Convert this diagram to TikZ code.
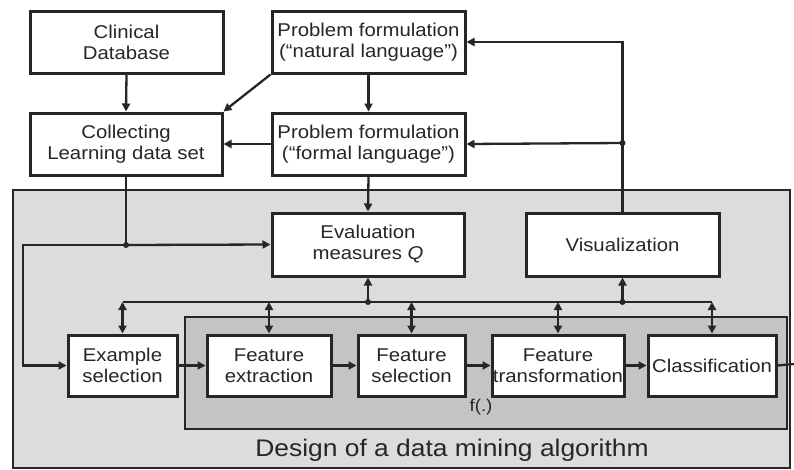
\documentclass[tikz,border=0pt]{standalone}
\usepackage{fontspec}
\setmainfont{Liberation Sans}[FakeStretch=1.1]
\usetikzlibrary{arrows.meta}
\definecolor{outergray}{HTML}{DCDCDC}
\definecolor{innergray}{HTML}{C4C4C4}
\definecolor{ink}{HTML}{262626}
\begin{document}
\begin{tikzpicture}[x=1pt,y=-1pt,
  box/.style={draw=ink,fill=white,line width=3pt,inner sep=0pt,align=center,
    font=\fontsize{18.5}{21}\selectfont,text=ink},
  conn/.style={draw=ink,line width=2.3pt,-{Triangle[length=8pt,width=8pt]}},
  dconn/.style={draw=ink,line width=2.3pt,{Triangle[length=8pt,width=8pt]}-{Triangle[length=8pt,width=8pt]}},
  line/.style={draw=ink,line width=2.3pt},
  dot/.style={circle,fill=ink,inner sep=0pt,minimum size=6pt}]
\useasboundingbox (0,0) rectangle (794,469);
\fill[white] (0,0) rectangle (794,469);
% background regions
\draw[draw=ink,fill=outergray,line width=2.4pt] (13,190) rectangle (790,468);
\draw[draw=ink,fill=innergray,line width=2.8pt] (185,317) rectangle (787,429);
% boxes
\node[box,minimum width=193pt,minimum height=62pt] (clin) at (126.5,42) {Clinical\\Database};
\node[box,minimum width=193pt,minimum height=62pt] (nat) at (368.5,42) {Problem formulation\\(“natural language”)};
\node[box,minimum width=192pt,minimum height=62pt] (coll) at (126,144) {Collecting\\Learning data set};
\node[box,minimum width=193pt,minimum height=62pt] (form) at (368.5,144) {Problem formulation\\(“formal language”)};
\node[box,minimum width=192pt,minimum height=63pt] (eval) at (368,244.5) {Evaluation\\measures \textit{Q}};
\node[box,minimum width=193pt,minimum height=63pt] (viz) at (622.5,244.5) {Visualization};
\node[box,minimum width=109pt,minimum height=61pt] (ex) at (122.5,365.5) {Example\\selection};
\node[box,minimum width=124pt,minimum height=61pt] (fext) at (269,365.5) {Feature\\extraction};
\node[box,minimum width=107pt,minimum height=61pt] (fsel) at (411.5,365.5) {Feature\\selection};
\node[box,minimum width=132pt,minimum height=61pt] (ftr) at (558,365.5) {Feature\\transformation};
\node[box,minimum width=128pt,minimum height=61pt] (cls) at (712,365.5) {Classification};
% labels
\node[text=ink,font=\fontsize{17}{19}\selectfont] (flabel) at (481,407) {f(.)};
\node[text=ink,font=\fontsize{24}{28}\selectfont] (design) at (452,450) {Design of a data mining algorithm};
% coordinates
\coordinate (j1) at (126,245);
\coordinate (leftc) at (23,245);
\coordinate (bus) at (0,302);
\coordinate (jv) at (622.5,143);
\coordinate (outr) at (794,364);
% top connectors
\draw[conn] (clin.south) -- (coll.north);
\draw[conn] (nat.south west) -- (coll.north east);
\draw[conn] (nat.south) -- (form.north);
\draw[conn] (form.west) -- (coll.east);
\draw[conn] (form.south) -- (eval.north);
\draw[conn] (viz.north) |- (nat.east);
\draw[conn] (jv) -- (form.east);
\node[dot] at (jv) {};
% data path
\draw[line] (coll.south) -- (j1);
\draw[conn] (j1) -- (eval.west);
\draw[conn] (j1) -- (leftc) |- (ex.west);
\node[dot] at (j1) {};
% bus
\draw[line] (ex.north |- bus) -- (cls.north |- bus);
\draw[dconn] (ex.north |- bus) -- (ex.north);
\draw[dconn] (fext.north |- bus) -- (fext.north);
\draw[dconn] (fsel.north |- bus) -- (fsel.north);
\draw[dconn] (ftr.north |- bus) -- (ftr.north);
\draw[dconn] (cls.north |- bus) -- (cls.north);
\draw[conn] (eval.south |- bus) -- (eval.south);
\draw[conn] (viz.south |- bus) -- (viz.south);
\node[dot] at (eval.south |- bus) {};
\node[dot] at (viz.south |- bus) {};
% chain
\draw[conn] (ex.east) -- (fext.west);
\draw[conn] (fext.east) -- (fsel.west);
\draw[conn] (fsel.east) -- (ftr.west);
\draw[conn] (ftr.east) -- (cls.west);
\draw[line] (cls.east) -- (outr);
\end{tikzpicture}
\end{document}
